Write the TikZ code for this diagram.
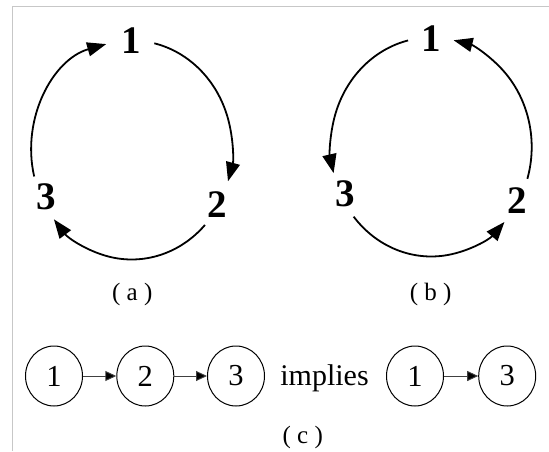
\documentclass[tikz,border=0pt]{standalone}
\usepackage{fontspec}
\setmainfont{Liberation Serif}
\usetikzlibrary{arrows.meta,shapes.geometric,calc}
\begin{document}
\begin{tikzpicture}[x=1pt,y=1pt,
  lbl/.style={font=\fontsize{39}{39}\selectfont\bfseries, inner sep=0pt},
  capt/.style={font=\fontsize{25}{25}\selectfont, inner sep=0pt},
  bigarc/.style={line width=1.8pt, -{Triangle[length=19pt,width=14pt]}},
  cnode/.style={draw, ellipse, line width=1pt, minimum width=57pt, minimum height=60pt, inner sep=0pt, font=\fontsize{30.5}{30.5}\selectfont},
  sarrow/.style={line width=0.9pt, draw=black!75, -{Triangle[length=11pt,width=10pt,fill=black]}},
  frameline/.style={draw=black!22, line width=1pt}]
\useasboundingbox (0,0) rectangle (549,451);
\draw[frameline] (12.5,0) -- (12.5,444) -- (549,444);

% (a)
\coordinate (ca) at (131.7,301);
\node[lbl] (a1) at (131.7,410) {1};
\node[lbl] (a2) at (217.5,246) {2};
\node[lbl] (a3) at (45.8,254.3) {3};
\draw[bigarc] ($(ca)+(194:100.5 and 109.5)$) arc[start angle=194, end angle=104.7, x radius=100.5, y radius=109.5];
\draw[bigarc] ($(ca)+(77:100.5 and 109.5)$) arc[start angle=77, end angle=-16.6, x radius=100.5, y radius=109.5];
\draw[bigarc] ($(ca)+(-43.2:100.5 and 109.5)$) arc[start angle=-43.2, end angle=-140.7, x radius=100.5, y radius=109.5];
\node[capt] (capa) at (132.2,157) {( a )};

% (b)
\coordinate (cb) at (431.2,304);
\node[lbl] (b1) at (431.7,412.5) {1};
\node[lbl] (b2) at (517.5,250) {2};
\node[lbl] (b3) at (345,257) {3};
\draw[bigarc] ($(cb)+(103.3:100.5 and 109.5)$) arc[start angle=103.3, end angle=193.8, x radius=100.5, y radius=109.5];
\draw[bigarc] ($(cb)+(219.5:100.5 and 109.5)$) arc[start angle=219.5, end angle=316.8, x radius=100.5, y radius=109.5];
\draw[bigarc] ($(cb)+(-16.9:100.5 and 109.5)$) arc[start angle=-16.9, end angle=77.1, x radius=100.5, y radius=109.5];
\node[capt] (capb) at (430.7,157) {( b )};

% (c)
\node[cnode] (c1) at (54,75) {1};
\node[cnode] (c2) at (145.3,75) {2};
\node[cnode] (c3) at (236,75) {3};
\node[font=\fontsize{30}{30}\selectfont, anchor=base, inner sep=0pt] (imp) at (324.5,66) {implies};
\node[cnode] (d1) at (415,75) {1};
\node[cnode] (d3) at (507.2,75) {3};
\draw[sarrow] (c1) -- (c2);
\draw[sarrow] (c2) -- (c3);
\draw[sarrow] (d1) -- (d3);
\node[capt] (capc) at (302.7,13.5) {( c )};
\end{tikzpicture}
\end{document}
